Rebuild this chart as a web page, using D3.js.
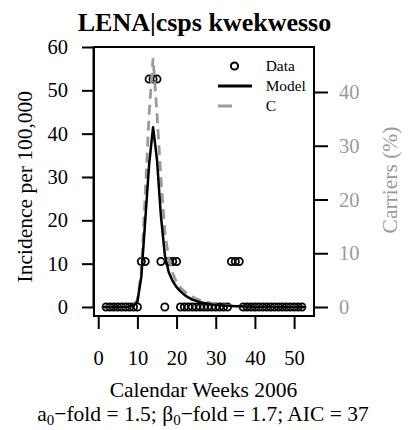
<!DOCTYPE html>
<html><head><meta charset="utf-8">
<script src="https://cdn.jsdelivr.net/npm/d3@7"></script>
<style>
html,body{margin:0;padding:0;background:#fff;}
svg{display:block;}
svg text{font-family:"Liberation Serif","Times New Roman","DejaVu Serif",serif !important;}
</style></head>
<body>
<svg id="chart" width="411" height="430"></svg>
<script>
// ---- data ----
const obsWeeks = d3.range(2, 53);
const obsIncidence = [
  0,0,0,0,0,0,0,0,0,          // weeks 2-10
  10.5,10.5,                  // 11-12
  52.6,52.6,52.6,             // 13-15
  10.5,                       // 16
  0,                          // 17
  10.5,10.5,10.5,             // 18-20
  0,0,0,0,0,0,0,0,0,0,0,0,0,  // 21-33
  10.5,10.5,10.5,             // 34-36
  0,0,0,0,0,0,0,0,0,0,0,0,0,0,0,0 // 37-52
];
const curveWeeks = d3.range(1, 54);
const modelIncidence = [
  0,0,0,0,0,0,0,0.05,0.3,1.2,          // 1-10
  7,20,33,41.5,34,21,12,8,6,4.6,       // 11-20
  3.6,2.8,2.2,1.7,1.4,1.1,0.9,0.75,0.6,0.5, // 21-30
  0.4,0.33,0.27,0.22,0.18,0.15,0.12,0.1,0.08,0.06, // 31-40
  0.05,0.04,0.03,0.03,0.02,0.02,0.01,0.01,0.01,0,0,0,0 // 41-53
];
const carriersPct = [
  0,0,0,0,0,0,0,0.05,0.3,1.3,          // 1-10
  6.5,21,36,46.3,36,24,14,9,6.3,4.6,   // 11-20
  3.6,2.9,2.3,1.9,1.5,1.25,1.0,0.85,0.7,0.55, // 21-30
  0.45,0.37,0.3,0.25,0.2,0.16,0.13,0.1,0.08,0.06, // 31-40
  0.05,0.04,0.03,0.03,0.02,0.02,0.01,0.01,0.01,0,0,0,0 // 41-53
];
const xTicks = [0,10,20,30,40,50];
const yLeftTicks = [0,10,20,30,40,50,60];
const yRightTicks = [0,10,20,30,40];
const legendLabels = ["Data","Model","C"];

// ---- layout ----
const FONT = "'Liberation Serif', 'Times New Roman', serif";
const svg = d3.select("#chart");
const L = 94, R = 314, T = 47, B = 316;
const grey = "#9a9a9a";
const x = d3.scaleLinear().domain([-1.08, 55.08]).range([L, R]);
const yL = d3.scaleLinear().domain([-2.08, 60]).range([B, T]);
const yR = d3.scaleLinear().domain([-1.674, 48.37]).range([B, T]);

svg.append("defs").append("clipPath").attr("id","clip")
  .append("rect").attr("x",L).attr("y",T).attr("width",R-L).attr("height",B-T);

// title
svg.append("text").attr("x",204.5).attr("y",31).attr("text-anchor","middle")
  .attr("font-family",FONT).attr("font-weight","bold").attr("font-size",26).text("LENA|csps kwekwesso");

// left axis
const axL = svg.append("g").attr("transform",`translate(${L},0)`)
  .call(d3.axisLeft(yL).tickValues(yLeftTicks).tickSize(12).tickPadding(14).tickFormat(d3.format("d")));
axL.attr("font-family",FONT);
axL.select(".domain").remove();
axL.append("line").attr("x1",-0.5).attr("x2",-0.5).attr("y1",yL(0)).attr("y2",yL(60)).attr("stroke","#000").attr("stroke-width",2);
axL.selectAll(".tick line").attr("stroke","#000").attr("stroke-width",2);
axL.selectAll(".tick text").attr("font-size",20.5).attr("font-family",FONT).attr("fill","#000");

// bottom axis
const axB = svg.append("g").attr("transform",`translate(0,${B})`)
  .call(d3.axisBottom(x).tickValues(xTicks).tickSize(13).tickPadding(21).tickFormat(d3.format("d")));
axB.attr("font-family",FONT);
axB.select(".domain").remove();
axB.selectAll(".tick line").attr("stroke","#000").attr("stroke-width",2);
axB.selectAll(".tick text").attr("font-size",20.5).attr("font-family",FONT).attr("fill","#000");

// right axis
const axR = svg.append("g").attr("transform",`translate(${R},0)`)
  .call(d3.axisRight(yR).tickValues(yRightTicks).tickSize(14).tickPadding(11).tickFormat(d3.format("d")));
axR.attr("font-family",FONT);
axR.select(".domain").remove();
axR.selectAll(".tick line").attr("stroke","#000").attr("stroke-width",2);
axR.selectAll(".tick text").attr("font-size",20.5).attr("font-family",FONT).attr("fill",grey);

// box
svg.append("rect").attr("x",L).attr("y",T).attr("width",R-L).attr("height",B-T)
  .attr("fill","none").attr("stroke","#000").attr("stroke-width",2);

// axis titles
svg.append("text").attr("transform","translate(32,186.7) rotate(-90)").attr("text-anchor","middle")
  .attr("font-family",FONT).attr("font-size",21.5).text("Incidence per 100,000");
svg.append("text").attr("transform","translate(397,180) rotate(-90)").attr("text-anchor","middle")
  .attr("font-family",FONT).attr("font-size",21.5).attr("fill",grey).text("Carriers (%)");
svg.append("text").attr("x",203.5).attr("y",397).attr("text-anchor","middle")
  .attr("font-family",FONT).attr("font-size",21.5).text("Calendar Weeks 2006");
const sub = svg.append("text").attr("x",203).attr("y",421).attr("text-anchor","middle")
  .attr("font-family",FONT).attr("font-size",21.5);
sub.append("tspan").text("a");
sub.append("tspan").attr("font-size",15).attr("dy",4).text("0");
sub.append("tspan").attr("dy",-4).text("\u2212fold = 1.5; \u03b2");
sub.append("tspan").attr("font-size",15).attr("dy",4).text("0");
sub.append("tspan").attr("dy",-4).text("\u2212fold = 1.7; AIC = 37");

// curves
const plot = svg.append("g").attr("clip-path","url(#clip)");
const lineC = d3.line().x((d,i)=>x(curveWeeks[i])).y(d=>yR(d));
const lineM = d3.line().x((d,i)=>x(curveWeeks[i])).y(d=>yL(d));

// data points
plot.selectAll("circle.obs").data(obsIncidence).join("circle").attr("class","obs")
  .attr("cx",(d,i)=>x(obsWeeks[i])).attr("cy",d=>yL(d)).attr("r",3.6)
  .attr("fill","none").attr("stroke","#000").attr("stroke-width",1.8);

plot.append("path").datum(carriersPct).attr("d",lineC).attr("fill","none")
  .attr("stroke",grey).attr("stroke-width",2.8).attr("stroke-dasharray","10,6");
plot.append("path").datum(modelIncidence).attr("d",lineM).attr("fill","none")
  .attr("stroke","#000").attr("stroke-width",2.5).attr("stroke-linejoin","round");

// legend
const lg = svg.append("g");
const lgY = [66,86,106];
lg.append("circle").attr("cx",234.5).attr("cy",lgY[0]).attr("r",3.6).attr("fill","none").attr("stroke","#000").attr("stroke-width",2);
lg.append("line").attr("x1",218).attr("x2",252).attr("y1",lgY[1]).attr("y2",lgY[1]).attr("stroke","#000").attr("stroke-width",3);
lg.append("line").attr("x1",218).attr("x2",252).attr("y1",lgY[2]).attr("y2",lgY[2]).attr("stroke",grey).attr("stroke-width",3).attr("stroke-dasharray","14,40");
lg.selectAll("text").data(legendLabels).join("text")
  .attr("x",265.7).attr("y",(d,i)=>lgY[i]+5).attr("font-family",FONT).attr("font-size",15.4).text(d=>d);
</script>
</body></html>
